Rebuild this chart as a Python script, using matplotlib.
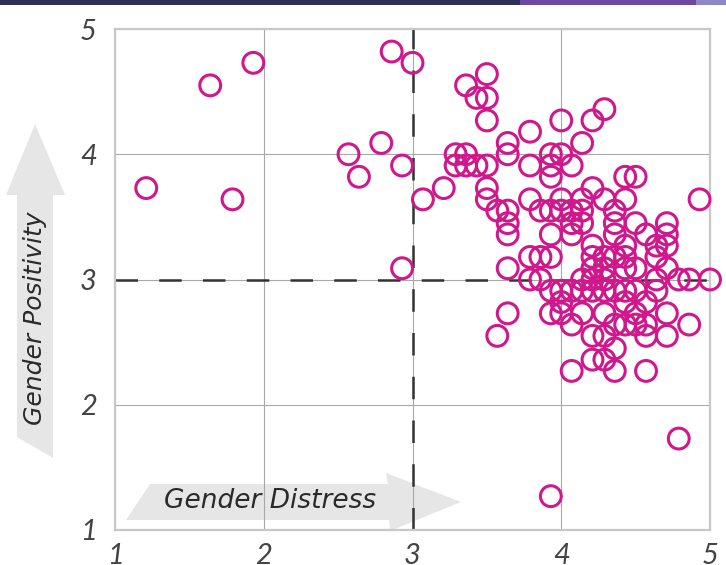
import matplotlib
matplotlib.use("Agg")
import matplotlib.pyplot as plt
from matplotlib.patches import Polygon, Rectangle

# ---------------- data ----------------
gender_distress = [
    1.21, 1.64, 1.79, 1.93, 2.57, 2.64, 2.79, 2.86, 2.93, 2.93, 3.00, 3.07, 3.21,
    3.36, 3.50, 3.43, 3.50, 3.50,
    3.29, 3.36, 3.29, 3.36, 3.43, 3.50,
    3.50, 3.50, 3.57,
    3.64, 3.64, 3.64, 3.64, 3.64, 3.64, 3.64, 3.57,
    3.79, 3.79, 3.79, 3.79, 3.79,
    3.86, 3.86, 3.86,
    3.93, 3.93, 3.93, 3.93, 3.93, 3.93, 3.93, 3.93, 3.93,
    4.00, 4.00, 4.00, 4.00, 4.00, 4.00, 4.00,
    4.07, 4.07, 4.07, 4.07, 4.07, 4.07, 4.07,
    4.14, 4.14, 4.14, 4.14, 4.14, 4.14, 4.14,
    4.21, 4.21, 4.21, 4.21, 4.21, 4.21, 4.21, 4.21, 4.21,
    4.29, 4.29, 4.29, 4.29, 4.29, 4.29, 4.29, 4.29, 4.29,
    4.36, 4.36, 4.36, 4.36, 4.36, 4.36, 4.36, 4.36,
    4.43, 4.43, 4.43, 4.43, 4.43, 4.43, 4.43, 4.43,
    4.50, 4.50, 4.50, 4.50, 4.50, 4.50,
    4.57, 4.57, 4.57, 4.57, 4.57,
    4.64, 4.64, 4.64, 4.64,
    4.71, 4.71, 4.71, 4.71, 4.71, 4.71,
    4.79, 4.79,
    4.86, 4.86,
    4.93, 5.00,
]
gender_positivity = [
    3.73, 4.55, 3.64, 4.73, 4.00, 3.82, 4.09, 4.82, 3.91, 3.09, 4.73, 3.64, 3.73,
    4.55, 4.64, 4.45, 4.45, 4.27,
    4.00, 4.00, 3.91, 3.91, 3.91, 3.91,
    3.73, 3.64, 3.55,
    4.09, 4.00, 3.55, 3.45, 3.36, 3.09, 2.73, 2.55,
    4.18, 3.91, 3.64, 3.18, 3.00,
    3.55, 3.18, 3.00,
    3.55, 3.18, 4.00, 3.82, 3.91, 3.36, 2.91, 2.73, 1.27,
    4.27, 4.00, 3.64, 3.55, 2.91, 2.82, 2.73,
    3.91, 3.55, 3.45, 3.36, 2.91, 2.64, 2.27,
    4.09, 3.64, 3.55, 3.45, 3.00, 2.91, 2.73,
    4.27, 3.73, 3.27, 3.18, 3.09, 3.00, 2.91, 2.55, 2.36,
    4.36, 3.64, 3.18, 3.09, 3.00, 2.91, 2.73, 2.55, 2.36,
    3.55, 3.45, 3.36, 3.18, 2.91, 2.64, 2.45, 2.27,
    3.82, 3.64, 3.27, 3.18, 3.09, 2.91, 2.82, 2.64,
    3.82, 3.45, 3.09, 2.91, 2.73, 2.64,
    3.36, 2.82, 2.64, 2.55, 2.27,
    3.27, 3.18, 3.00, 2.91,
    3.45, 3.36, 3.27, 3.09, 2.73, 2.55,
    3.00, 1.73,
    3.00, 2.64,
    3.64, 3.00,
]
ticks = [1, 2, 3, 4, 5]
tick_labels = ["1", "2", "3", "4", "5"]
x_label = "Gender Distress"
y_label = "Gender Positivity"
x_midpoint = 3
y_midpoint = 3

# ---------------- figure ----------------
W, H = 726, 565
fig = plt.figure(figsize=(W / 100, H / 100), dpi=100)
fig.patch.set_facecolor("white")

def px(x, y):
    return (x / W, 1 - y / H)

# header bar
fig.add_artist(Rectangle(px(0, 5), 520 / W, 5 / H, transform=fig.transFigure,
                         color="#2f3058", lw=0))
fig.add_artist(Rectangle(px(520, 5), 176 / W, 5 / H, transform=fig.transFigure,
                         color="#6b4a9f", lw=0))
fig.add_artist(Rectangle(px(696, 5), 30 / W, 5 / H, transform=fig.transFigure,
                         color="#8e88c6", lw=0))

ax = fig.add_axes([115 / W, 1 - 530 / H, (710 - 115) / W, (530 - 29) / H])
ax.set_xlim(1, 5)
ax.set_ylim(1, 5)

for s in ax.spines.values():
    s.set_color("#c8c8c8")
    s.set_linewidth(1.6)

ax.set_xticks(ticks)
ax.set_yticks(ticks)
font_kw = dict(family=["Lato", "DejaVu Sans"], style="italic", weight="normal",
               size=21, color="#444444")
ax.set_xticklabels(tick_labels, **font_kw)
ax.set_yticklabels(tick_labels, **font_kw)
ax.tick_params(axis="both", length=0)
ax.tick_params(axis="x", pad=9)
ax.tick_params(axis="y", pad=13)
ax.grid(True, color="#a8a8a8", lw=0.8, zorder=1)
ax.set_axisbelow(True)

# horizontal arrow (inside axes, behind grid)
harrow = [(126, 520), (150, 484), (388, 484), (386, 473), (461, 502),
          (390, 531), (389, 520)]
fig.add_artist(Polygon([px(*p) for p in harrow], closed=True,
                       transform=fig.transFigure, facecolor="#e6e6e6",
                       edgecolor="none", zorder=0.5))
# vertical arrow (left of axes)
varrow = [(17, 437), (17, 195), (6, 195), (35, 124), (65, 195), (53, 195),
          (53, 458)]
fig.add_artist(Polygon([px(*p) for p in varrow], closed=True,
                       transform=fig.transFigure, facecolor="#e6e6e6",
                       edgecolor="none", zorder=0.5))
ax.patch.set_alpha(0)
ax.set_zorder(2)

label_kw = dict(family=["DejaVu Sans"], style="oblique", color="#2a2a2a")
fig.text(*px(270, 501), x_label, ha="center", va="center", size=19,
         **label_kw)
fig.text(*px(35, 318), y_label, ha="center", va="center", rotation=90,
         size=18, **label_kw)

# midpoint dashed lines
ax.axvline(x_midpoint, color="#333333", lw=1.8, dashes=(9, 8.5), zorder=2)
ax.axhline(y_midpoint, color="#333333", lw=1.8, dashes=(9, 8.5), zorder=2)

ax.scatter(gender_distress, gender_positivity, s=225, facecolors="none",
           edgecolors="#d0178c", linewidths=2.2, zorder=3, clip_on=False)

fig.savefig("out.png", dpi=100)
